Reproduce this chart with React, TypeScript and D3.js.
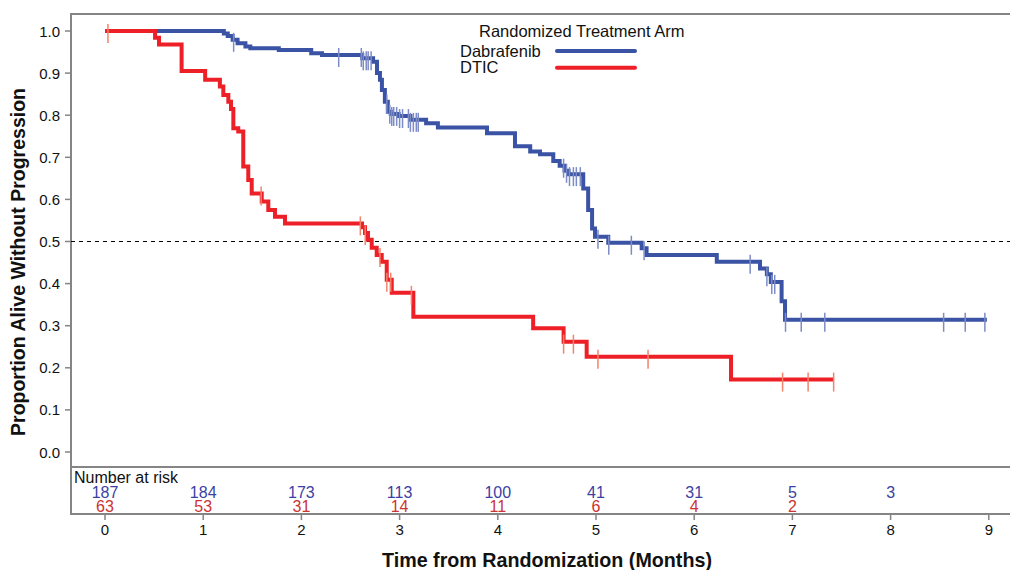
import React from 'react';
import * as d3 from 'd3';

// time (months) where the curve steps down, and the proportion after the step
const dabStepTimes = [1.21, 1.25, 1.30, 1.35, 1.43, 1.48, 1.77, 2.10, 2.21, 2.62, 2.73, 2.77, 2.80, 2.82, 2.85, 2.88, 2.91, 2.99, 3.11, 3.27, 3.39, 3.89, 4.175, 4.33, 4.43, 4.565, 4.63, 4.68, 4.72, 4.87, 4.92, 4.96, 4.99, 5.125, 5.465, 5.515, 6.23, 6.67, 6.74, 6.78, 6.89, 6.925];
const dabStepValues = [0.994, 0.988, 0.979, 0.971, 0.963, 0.959, 0.955, 0.947, 0.943, 0.935, 0.927, 0.90, 0.884, 0.86, 0.832, 0.808, 0.803, 0.798, 0.789, 0.781, 0.771, 0.757, 0.726, 0.714, 0.707, 0.691, 0.68, 0.668, 0.66, 0.626, 0.575, 0.531, 0.511, 0.497, 0.484, 0.468, 0.452, 0.436, 0.422, 0.404, 0.358, 0.314];
const dabEnd = 8.98;
const dabCensored = [1.31, 2.38, 2.61, 2.63, 2.66, 2.68, 2.71, 2.87, 2.90, 2.92, 2.94, 2.97, 3.00, 3.03, 3.09, 3.11, 3.14, 3.17, 3.19, 4.67, 4.70, 4.73, 4.77, 4.80, 4.84, 5.02, 5.13, 5.36, 5.49, 6.57, 6.74, 6.79, 6.82, 6.93, 7.09, 7.33, 8.54, 8.76, 8.96];

const dticStepTimes = [0.51, 0.55, 0.78, 1.02, 1.17, 1.205, 1.256, 1.283, 1.307, 1.357, 1.408, 1.459, 1.494, 1.596, 1.663, 1.731, 1.833, 2.617, 2.648, 2.678, 2.716, 2.767, 2.818, 2.869, 2.92, 3.14, 4.36, 4.67, 4.905, 6.375];
const dticStepValues = [0.984, 0.968, 0.905, 0.884, 0.868, 0.848, 0.832, 0.815, 0.769, 0.761, 0.678, 0.646, 0.614, 0.595, 0.575, 0.559, 0.543, 0.534, 0.52, 0.504, 0.485, 0.468, 0.452, 0.409, 0.378, 0.321, 0.294, 0.262, 0.226, 0.172];
const dticEnd = 7.42;
const dticCensored = [0.03, 1.59, 2.60, 2.65, 2.80, 2.87, 2.91, 3.12, 4.67, 4.77, 5.02, 5.53, 6.90, 7.16, 7.42];

const xTicks = [0, 1, 2, 3, 4, 5, 6, 7, 8, 9];
const yTicks = [0, 0.1, 0.2, 0.3, 0.4, 0.5, 0.6, 0.7, 0.8, 0.9, 1.0];
const atRiskDab = [187, 184, 173, 113, 100, 41, 31, 5, 3];
const atRiskDtic = [63, 53, 31, 14, 11, 6, 4, 2];

const arms = [
  { name: 'Dabrafenib', times: dabStepTimes, values: dabStepValues, end: dabEnd, censored: dabCensored, color: '#3a53a4', tick: '#7d8cc6' },
  { name: 'DTIC', times: dticStepTimes, values: dticStepValues, end: dticEnd, censored: dticCensored, color: '#ed1f27', tick: '#f2836b' },
];

const FONT = '"Liberation Sans", Arial, sans-serif';

export default function App() {
  const left = 71, right = 1010, top = 14, plotBottom = 467, tableBottom = 514;
  const x = d3.scaleLinear().domain([0, 9]).range([105, 988.8]);
  const y = d3.scaleLinear().domain([0, 1]).range([452, 31]);

  const line = d3.line<[number, number]>()
    .x(d => x(d[0]))
    .y(d => y(d[1]))
    .curve(d3.curveStepAfter);

  const survAt = (times: number[], values: number[], t: number) => {
    let s = 1;
    times.forEach((tt, i) => { if (tt <= t) s = values[i]; });
    return s;
  };

  const curvePts = (a: typeof arms[0]): [number, number][] => {
    const pts: [number, number][] = [[0, 1]];
    a.times.forEach((t, i) => pts.push([t, a.values[i]]));
    pts.push([a.end, a.values[a.values.length - 1]]);
    return pts;
  };

  const frame = '#858585';

  return (
    <div style={{ position: 'absolute', left: 0, top: 0 }}>
      <svg width={1010} height={570} style={{ display: 'block', background: '#fff' }} fontFamily={FONT}>
        {/* frame */}
        <line x1={left} x2={right} y1={top} y2={top} stroke={frame} strokeWidth={2} />
        <line x1={left} x2={right} y1={plotBottom} y2={plotBottom} stroke={frame} strokeWidth={2} />
        <line x1={left} x2={right} y1={tableBottom} y2={tableBottom} stroke={frame} strokeWidth={2} />
        <line x1={left} x2={left} y1={top - 1} y2={tableBottom + 1} stroke={frame} strokeWidth={2} />

        {/* y axis */}
        {yTicks.map(t => (
          <g key={t}>
            <line x1={left - 6} x2={left} y1={y(t)} y2={y(t)} stroke={frame} strokeWidth={1.5} />
            <text x={60} y={y(t) + 5.5} textAnchor="end" fontSize={15} fill="#111">{t.toFixed(1)}</text>
          </g>
        ))}
        <text transform={`translate(25,262) rotate(-90)`} textAnchor="middle" fontSize={19.5} fontWeight="bold" fill="#111">Proportion Alive Without Progression</text>

        {/* x axis */}
        {xTicks.map(t => (
          <g key={t}>
            <line x1={x(t)} x2={x(t)} y1={tableBottom} y2={tableBottom + 6} stroke={frame} strokeWidth={1.5} />
            <text x={x(t)} y={535} textAnchor="middle" fontSize={15} fill="#111">{t}</text>
          </g>
        ))}
        <text x={547} y={567} textAnchor="middle" fontSize={19.7} fontWeight="bold" fill="#111">Time from Randomization (Months)</text>

        {/* median reference */}
        <line x1={left} x2={right} y1={y(0.5)} y2={y(0.5)} stroke="#000" strokeWidth={1} strokeDasharray="4,4" />

        {/* curves */}
        {arms.map(a => (
          <g key={a.name}>
            <path d={line(curvePts(a)) || ''} fill="none" stroke={a.color} strokeWidth={4} />
            {a.censored.map((c, i) => {
              const s = survAt(a.times, a.values, c);
              return <line key={i} x1={x(c)} x2={x(c)} y1={y(s) - 7} y2={y(s) + 12} stroke={a.tick} strokeWidth={1.5} />;
            })}
          </g>
        ))}

        {/* legend */}
        <text x={479} y={37} fontSize={16.5} fill="#111">Randomized Treatment Arm</text>
        {arms.map((a, i) => (
          <g key={a.name}>
            <text x={460} y={56.5 + i * 16.5} fontSize={16.5} fill="#111">{a.name}</text>
            <line x1={557} x2={635} y1={51 + i * 16.7} y2={51 + i * 16.7} stroke={a.color} strokeWidth={4} strokeLinecap="round" />
          </g>
        ))}

        {/* number at risk */}
        <text x={74} y={483} fontSize={16} fill="#111">Number at risk</text>
        {atRiskDab.map((n, i) => (
          <text key={'d' + i} x={x(xTicks[i])} y={498} textAnchor="middle" fontSize={16} fill="#3d3fa3">{n}</text>
        ))}
        {atRiskDtic.map((n, i) => (
          <text key={'r' + i} x={x(xTicks[i])} y={512} textAnchor="middle" fontSize={16} fill="#cc3333">{n}</text>
        ))}
      </svg>
    </div>
  );
}
